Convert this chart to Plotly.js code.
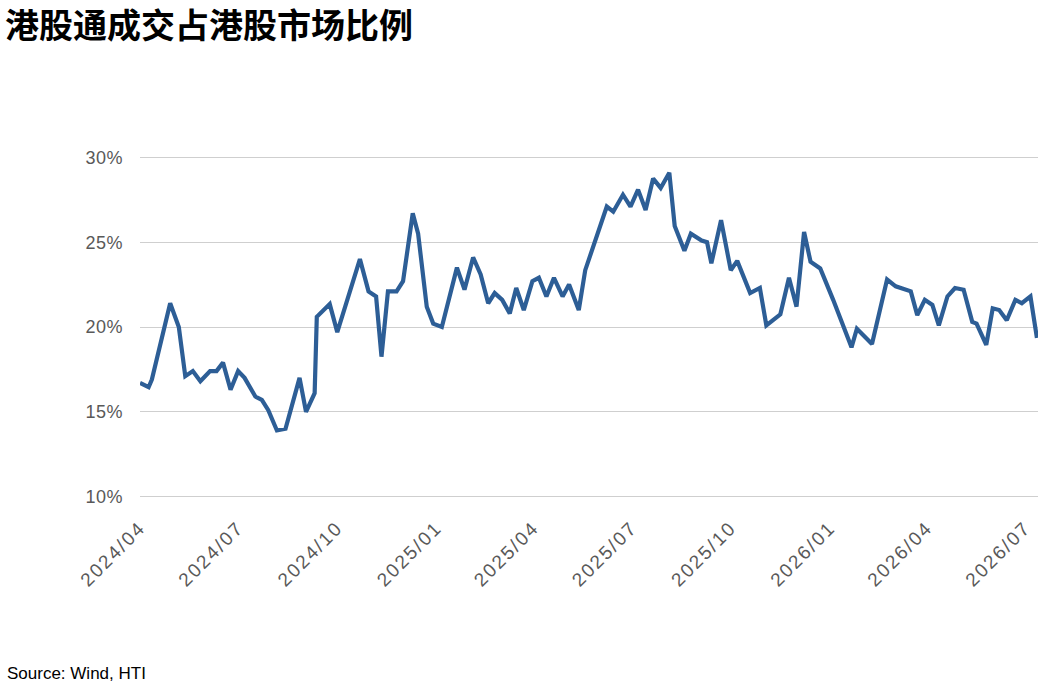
<!DOCTYPE html>
<html>
<head>
<meta charset="utf-8">
<script src="https://cdn.plot.ly/plotly-3.0.1.min.js"></script>
<style>
  html, body { margin: 0; padding: 0; background: #ffffff; }
  #chart { width: 1053px; height: 687px; }
  #chart .xtick text { letter-spacing: 2px; }
  #chart .ytick text { letter-spacing: 0.5px; }
</style>
</head>
<body>
<div id="chart"></div>
<script>
// 港股通成交占港股市场比例 (%)
const dates = [
    '2024-04-01', '2024-04-09', '2024-04-12', '2024-04-29', '2024-05-07', '2024-05-13',
    '2024-05-20', '2024-05-27', '2024-06-05', '2024-06-11', '2024-06-17', '2024-06-24',
    '2024-07-01', '2024-07-07', '2024-07-17', '2024-07-23', '2024-07-29', '2024-08-06',
    '2024-08-14', '2024-08-20', '2024-08-27', '2024-09-02', '2024-09-10', '2024-09-12',
    '2024-09-24', '2024-10-01', '2024-10-22', '2024-10-30', '2024-11-06', '2024-11-11',
    '2024-11-17', '2024-11-25', '2024-12-01', '2024-12-10', '2024-12-15', '2024-12-23',
    '2024-12-29', '2025-01-06', '2025-01-11', '2025-01-20', '2025-01-27', '2025-02-04',
    '2025-02-11', '2025-02-18', '2025-02-24', '2025-03-03', '2025-03-10', '2025-03-16',
    '2025-03-23', '2025-03-31', '2025-04-06', '2025-04-13', '2025-04-20', '2025-04-28',
    '2025-05-04', '2025-05-13', '2025-05-19', '2025-05-27', '2025-06-02', '2025-06-08',
    '2025-06-14', '2025-06-23', '2025-06-30', '2025-07-07', '2025-07-14', '2025-07-21',
    '2025-07-28', '2025-08-05', '2025-08-10', '2025-08-19', '2025-08-25', '2025-09-04',
    '2025-09-09', '2025-09-13', '2025-09-22', '2025-10-01', '2025-10-07', '2025-10-19',
    '2025-10-28', '2025-11-03', '2025-11-16', '2025-11-24', '2025-12-01', '2025-12-08',
    '2025-12-14', '2025-12-23', '2026-01-04', '2026-01-11', '2026-01-21', '2026-01-26',
    '2026-02-09', '2026-02-23', '2026-03-03', '2026-03-17', '2026-03-23', '2026-03-30',
    '2026-04-06', '2026-04-12', '2026-04-20', '2026-04-27', '2026-05-05', '2026-05-13',
    '2026-05-17', '2026-05-26', '2026-06-01', '2026-06-07', '2026-06-14', '2026-06-22',
    '2026-06-28', '2026-07-06', '2026-07-12'
];

const share = [
    16.7, 16.45, 16.9, 21.4, 20.0, 17.1,
    17.4, 16.8, 17.4, 17.4, 17.9, 16.3,
    17.4, 17.0, 15.9, 15.7, 15.1, 13.9,
    14.0, 15.5, 17.0, 15.0, 16.1, 20.6,
    21.35, 19.7, 24.0, 22.1, 21.8, 18.25,
    22.1, 22.1, 22.7, 26.7, 25.5, 21.2,
    20.2, 20.0, 21.2, 23.5, 22.2, 24.1,
    23.1, 21.4, 22.0, 21.6, 20.8, 22.3,
    21.0, 22.7, 22.9, 21.8, 22.9, 21.8,
    22.5, 21.0, 23.35, 24.9, 26.1, 27.1,
    26.8, 27.8, 27.1, 28.1, 26.9, 28.75,
    28.2, 29.1, 25.95, 24.5, 25.5, 25.1,
    25.0, 23.75, 26.3, 23.35, 23.9, 22.0,
    22.3, 20.1, 20.75, 22.9, 21.2, 25.6,
    23.85, 23.45, 21.6, 20.5, 18.8, 19.9,
    19.0, 22.8, 22.4, 22.1, 20.7, 21.6,
    21.3, 20.1, 21.8, 22.3, 22.2, 20.3,
    20.2, 18.95, 21.1, 21.0, 20.4, 21.6,
    21.4, 21.8, 19.35
];

const yTicks = [10, 15, 20, 25, 30];
const yTickText = yTicks.map(v => v + '%');
const xRange = ['2024-04-01', '2026-07-13'];
const titleText = '港股通成交占港股市场比例';
const sourceText = 'Source: Wind, HTI';

const data = [{
    type: 'scatter',
    mode: 'lines',
    x: dates,
    y: share,
    line: { color: '#2D5E96', width: 4.2, shape: 'linear' },
    hoverinfo: 'x+y'
}];

// plot area padded by 0.2 units each side so the 10% and 30% grid lines are drawn
const layout = {
    width: 1053,
    height: 687,
    margin: { l: 140, r: 15, t: 154, b: 187 },
    paper_bgcolor: '#ffffff',
    plot_bgcolor: '#ffffff',
    showlegend: false,
    title: {
        text: '<b>' + titleText + '</b>',
        font: { family: 'Noto Sans CJK SC, sans-serif', size: 34, color: '#000000' },
        x: 5 / 1053,
        xref: 'container',
        xanchor: 'left',
        y: 1 - 26 / 687,
        yref: 'container',
        yanchor: 'middle'
    },
    xaxis: {
        type: 'date',
        range: xRange,
        tick0: '2024-04-01',
        dtick: 'M3',
        tickformat: '%Y/%m',
        tickangle: -45,
        tickfont: { family: 'Liberation Sans, Arial, sans-serif', size: 19, color: '#595959' },
        ticks: '',
        ticklabelstandoff: 12,
        showgrid: false,
        zeroline: false,
        showline: false
    },
    yaxis: {
        range: [9.8, 30.2],
        tickmode: 'array',
        tickvals: yTicks,
        ticktext: yTickText,
        tickfont: { family: 'Liberation Sans, Arial, sans-serif', size: 18, color: '#595959' },
        ticks: '',
        ticklabelstandoff: 16,
        showgrid: true,
        gridcolor: '#CFCFCF',
        gridwidth: 1.3,
        zeroline: false,
        showline: false
    },
    annotations: [{
        text: sourceText,
        xref: 'paper',
        yref: 'paper',
        x: (5 - 140) / 898,
        y: (500 - 673) / 346,
        xanchor: 'left',
        yanchor: 'middle',
        showarrow: false,
        font: { family: 'Liberation Sans, Arial, sans-serif', size: 17, color: '#000000' }
    }]
};

Plotly.newPlot('chart', data, layout, { displayModeBar: false, responsive: false });
</script>
</body>
</html>
